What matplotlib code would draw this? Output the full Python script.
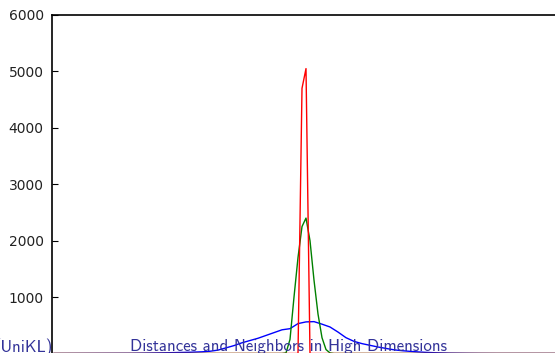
import numpy as np
import matplotlib
matplotlib.use('Agg')
import matplotlib.pyplot as plt

# ── Data (histogram counts, x in bin units) ──
red_x = [0.5, 61.5, 62.5, 63.5, 64.5, 141.5]
red_y = [0, 0, 4700, 5050, 0, 0]

green_x = [0.5, 57.5, 58.5, 59.5, 60.5, 61.5, 62.5, 63.5, 64.5, 65.5,
           66.5, 67.5, 68.5, 69.5, 70.5, 141.5]
green_y = [0, 0, 10, 250, 1000, 1700, 2250, 2400, 2000, 1300,
           700, 280, 70, 10, 0, 0]

blue_x = [0.5, 19.5, 24.5, 29.5, 34.5, 37.5, 39.5, 41.5, 43.5, 45.5,
          47.5, 49.5, 51.5, 53.5, 55.5, 57.5, 59.5, 61.5, 63.5, 65.5,
          67.5, 69.5, 71.5, 73.5, 75.5, 77.5, 79.5, 81.5, 83.5, 85.5,
          87.5, 89.5, 91.5, 93.5, 95.5, 97.5, 99.5, 103.5, 107.5, 111.5,
          141.5]
blue_y = [0, 3, 8, 14, 22, 30, 40, 60, 100, 140,
          190, 230, 270, 320, 370, 420, 440, 530, 560, 565,
          520, 470, 380, 280, 215, 175, 145, 115, 90, 65,
          50, 38, 28, 20, 14, 10, 6, 3, 1, 0,
          0]

yticks = [1000, 2000, 3000, 4000, 5000, 6000]

footer_left = '(UniKL)'
footer_title = 'Distances and Neighbors in High Dimensions'

W, H = 555, 353
fig = plt.figure(figsize=(W / 100, H / 100), dpi=100)

left_px, top_px, zero_px, right_px = 52, 15, 353.5, 620
ax = fig.add_axes([left_px / W, (H - zero_px) / H,
                   (right_px - left_px) / W, (zero_px - top_px) / H])

ax.plot(blue_x, blue_y, color='b', lw=1.0)
ax.plot(green_x, green_y, color='g', lw=1.0)
ax.plot(red_x, red_y, color='r', lw=1.0)

ax.set_xlim(0, (right_px - left_px) / 4)
ax.set_ylim(0, 6000)
ax.set_yticks(yticks)
ax.set_xticks([])
ax.tick_params(axis='y', direction='in', length=4, width=0.8, pad=6,
               labelsize=10, labelcolor='#222222')
ax.spines['bottom'].set_visible(False)
for s in ('left', 'top', 'right'):
    ax.spines[s].set_linewidth(1.2)

navy = '#333399'
fig.text(-5 / W, 1 - 351.5 / H, footer_left, color=navy, fontsize=12.1,
         family='cmss10', va='baseline', ha='left', zorder=5)
fig.text(130 / W, 1 - 351.5 / H, footer_title, color=navy, fontsize=12.1,
         family='cmss10', va='baseline', ha='left', zorder=5)

fig.savefig('out.png', dpi=100)
